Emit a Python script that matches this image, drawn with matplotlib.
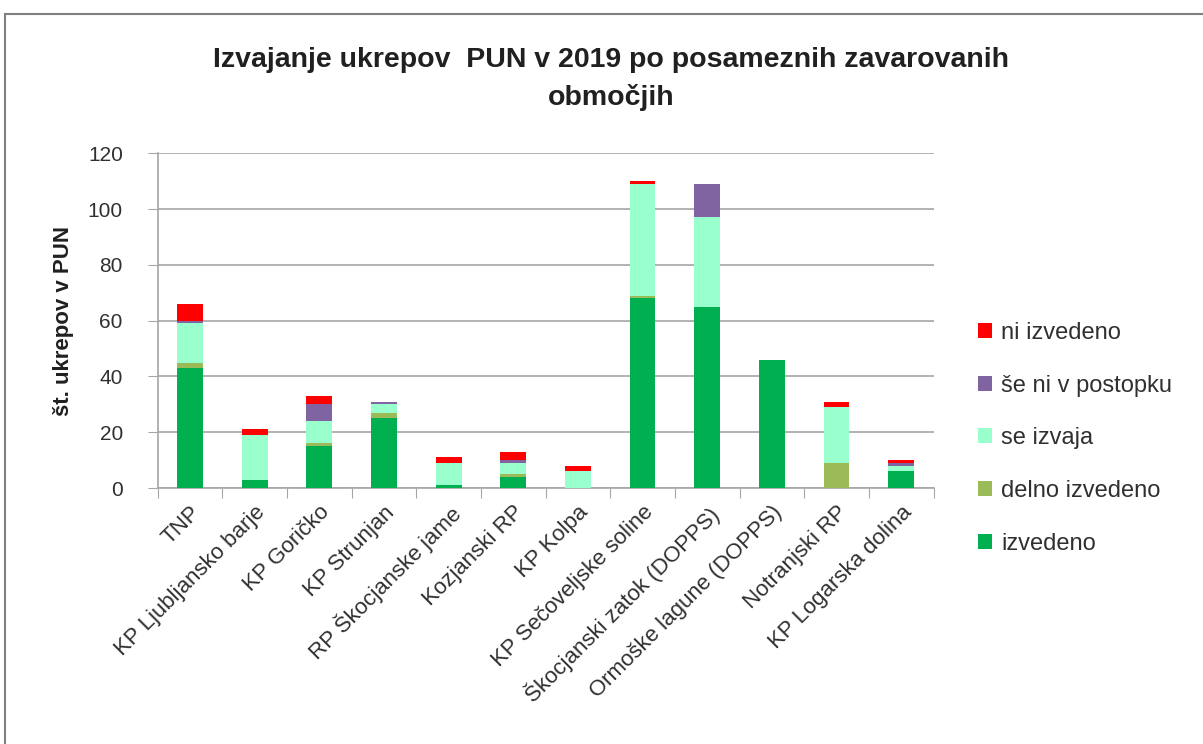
import numpy as np
import matplotlib.pyplot as plt
from matplotlib.patches import Rectangle

# podatki
obmocja = ['TNP', 'KP Ljubljansko barje', 'KP Goričko', 'KP Strunjan',
           'RP Škocjanske jame', 'Kozjanski RP', 'KP Kolpa',
           'KP Sečoveljske soline', 'Škocjanski zatok (DOPPS)',
           'Ormoške lagune (DOPPS)', 'Notranjski RP', 'KP Logarska dolina']
izvedeno = [43, 3, 15, 25, 1, 4, 0, 68, 65, 46, 0, 6]
delno_izvedeno = [2, 0, 1, 2, 0, 1, 0, 1, 0, 0, 9, 0]
se_izvaja = [14, 16, 8, 3, 8, 4, 6, 40, 32, 0, 20, 2]
se_ni_v_postopku = [1, 0, 6, 1, 0, 1, 0, 0, 12, 0, 0, 1]
ni_izvedeno = [6, 2, 3, 0, 2, 3, 2, 1, 0, 0, 2, 1]

serije = [('izvedeno', izvedeno, '#00B050'),
          ('delno izvedeno', delno_izvedeno, '#9BBB59'),
          ('se izvaja', se_izvaja, '#99FFCC'),
          ('še ni v postopku', se_ni_v_postopku, '#8064A2'),
          ('ni izvedeno', ni_izvedeno, '#FF0000')]

plt.rcParams['font.family'] = ['Liberation Sans', 'DejaVu Sans']
barva_teksta = '#303030'
siva = '#A6A6A6'

fig = plt.figure(figsize=(12.03, 7.44), dpi=100)
ax = fig.add_axes([0.131, 0.344, 0.645, 0.450])

x = np.arange(len(obmocja))
spodaj = np.zeros(len(obmocja))
rocke = []
for ime, vrednosti, barva in serije:
    b = ax.bar(x, vrednosti, 0.4, bottom=spodaj, color=barva, label=ime, zorder=3)
    rocke.append(b)
    spodaj += np.array(vrednosti)

ax.set_xlim(-0.5, len(obmocja) - 0.5)
ax.set_ylim(0, 120)
ax.set_yticks(range(0, 121, 20))
ax.yaxis.grid(True, color=siva, linewidth=1.2, zorder=0)
ax.set_xticks(np.arange(-0.5, len(obmocja), 1), minor=False)
ax.set_xticklabels([])
ax.set_xticks(x, minor=True)
ax.set_xticklabels(obmocja, minor=True, rotation=45, ha='right',
                   rotation_mode='anchor', fontsize=16, color=barva_teksta)
ax.tick_params(axis='x', which='minor', length=0, pad=10)
ax.tick_params(axis='x', which='major', length=7, color=siva)
ax.tick_params(axis='y', length=7, color=siva, labelsize=15,
               labelcolor=barva_teksta, pad=18)
for s in ['top', 'right']:
    ax.spines[s].set_visible(False)
for s in ['left', 'bottom']:
    ax.spines[s].set_color(siva)
    ax.spines[s].set_linewidth(1.2)
ax.set_ylabel('št. ukrepov v PUN', fontsize=16, fontweight='bold',
              color='#202020', labelpad=8)
ax.yaxis.set_label_coords(-0.108, 0.5)

fig.text(0.508, 0.894, 'Izvajanje ukrepov  PUN v 2019 po posameznih zavarovanih\nobmočjih',
         ha='center', va='center', fontsize=20.5, fontweight='bold',
         linespacing=1.5, color='#202020')

leg = ax.legend(rocke[::-1], [s[0] for s in serije][::-1], loc='center left',
                bbox_to_anchor=(0.805, 0.411), bbox_transform=fig.transFigure,
                frameon=False, fontsize=17, handlelength=0.6, handleheight=0.6,
                labelspacing=1.3, handletextpad=0.4, borderaxespad=0)
for t in leg.get_texts():
    t.set_color(barva_teksta)

# okvir grafikona
fig.patches.append(Rectangle((5 / 1203, -0.1), 1.2, 1 - 14 / 744 + 0.1,
                             transform=fig.transFigure, fill=False,
                             edgecolor='#808080', linewidth=1.5))

fig.savefig('out.png', dpi=100, facecolor='white')
